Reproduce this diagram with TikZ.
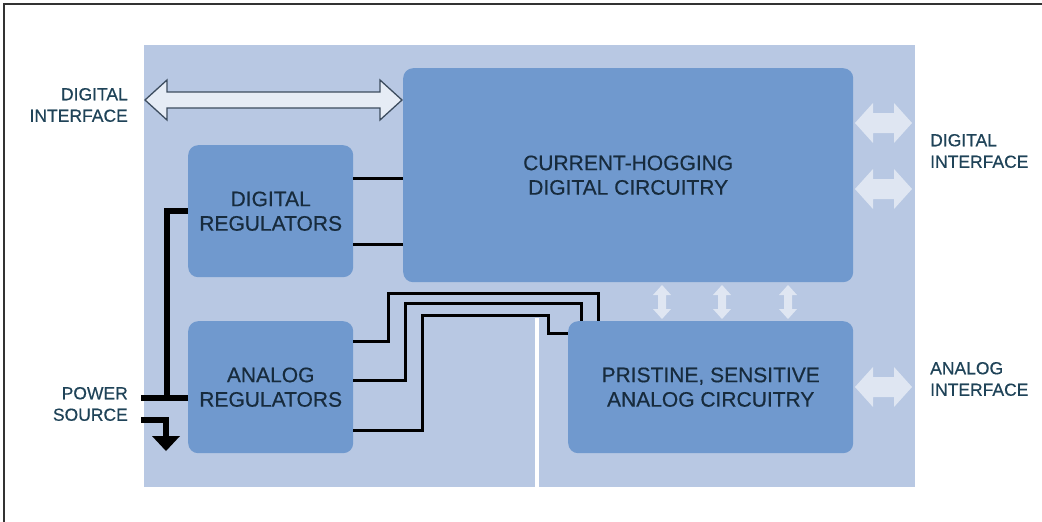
\documentclass[tikz,border=0pt]{standalone}
\usepackage{fontspec}
\setmainfont{Liberation Sans}[FakeBold=0.45]
\usetikzlibrary{calc}
\definecolor{bgblue}{HTML}{B8C8E3}
\definecolor{boxblue}{HTML}{7099CE}
\definecolor{txtc}{HTML}{172B3D}
\definecolor{lblc}{HTML}{1F4358}
\definecolor{arrfill}{HTML}{E6ECF5}
\definecolor{arrline}{HTML}{3C4C5E}
% style, x1, x2, y, shaft half, head half, head length
\newcommand{\hdblarrow}[7]{%
 \path[#1] (#2,#4) -- ({#2+#7},{#4-#6}) -- ({#2+#7},{#4-#5}) -- ({#3-#7},{#4-#5}) -- ({#3-#7},{#4-#6}) -- (#3,#4) -- ({#3-#7},{#4+#6}) -- ({#3-#7},{#4+#5}) -- ({#2+#7},{#4+#5}) -- ({#2+#7},{#4+#6}) -- cycle;}
% style, x, y1, y2, shaft half, head half, head length
\newcommand{\vdblarrow}[7]{%
 \path[#1] (#2,#3) -- ({#2+#6},{#3+#7}) -- ({#2+#5},{#3+#7}) -- ({#2+#5},{#4-#7}) -- ({#2+#6},{#4-#7}) -- (#2,#4) -- ({#2-#6},{#4-#7}) -- ({#2-#5},{#4-#7}) -- ({#2-#5},{#3+#7}) -- ({#2-#6},{#3+#7}) -- cycle;}
\begin{document}
\begin{tikzpicture}[x=1pt,y=-1pt,
  blk/.style={fill=boxblue, rounded corners=10pt, inner sep=0pt, anchor=north west, text=txtc, align=center, font=\fontsize{21}{24.5}\selectfont},
  lbl/.style={text=lblc, font=\fontsize{17.5}{21.5}\selectfont, inner sep=0pt},
  wire/.style={line width=3pt, black},
  power/.style={line width=6pt, black},
  lightarrow/.style={fill=arrfill, opacity=0.85},
  mainarrow/.style={fill=arrfill, draw=arrline, line width=1.3pt}]
\useasboundingbox (0,0) rectangle (1042,522);
\fill[white] (0,0) rectangle (1042,522);
% frame (top and left edges)
\draw[line width=1.5pt, black!80] (4,522) -- (4,4) -- (1042,4);
% background
\node[fill=bgblue, inner sep=0pt, anchor=north west, minimum width=771pt, minimum height=442pt] (bg) at (144,45) {};
% white separator
\coordinate (sep) at (537,318);
\draw[white, line width=4pt] (sep) -- (sep |- bg.south);
% blocks
\node[blk, minimum width=165pt, minimum height=132pt] (DR) at (188,145) {DIGITAL\\REGULATORS};
\node[blk, minimum width=165pt, minimum height=132pt] (AR) at (188,321) {ANALOG\\REGULATORS};
\node[blk, minimum width=450pt, minimum height=214pt] (CH) at (403,68) {CURRENT-HOGGING\\DIGITAL CIRCUITRY};
\node[blk, minimum width=285pt, minimum height=132pt] (AC) at (568,321) {PRISTINE, SENSITIVE\\ANALOG CIRCUITRY};
% digital regulator wires
\coordinate (d1) at ([yshift=-33pt]DR.north east);
\coordinate (d2) at ([yshift=-99pt]DR.north east);
\draw[wire] (d1) -- (d1 -| CH.west);
\draw[wire] (d2) -- (d2 -| CH.west);
% analog wires
\coordinate (w1s) at ([yshift=-20pt]AR.north east);
\coordinate (w2s) at ([yshift=-59pt]AR.north east);
\coordinate (w3s) at ([yshift=-109pt]AR.north east);
\coordinate (w1e) at ([xshift=30pt]AC.north west);
\coordinate (w2e) at ([xshift=13pt]AC.north west);
\coordinate (w3e) at ([yshift=-12pt]AC.north west);
\draw[wire] (w1s) -| (388,293) -| (w1e);
\draw[wire] (w2s) -| (405,303) -| (w2e);
\draw[wire] (w3s) -| (422,315) -| ($(w3e)+(-20,0)$) -- (w3e);
% power
\coordinate (pin) at (141,398);
\coordinate (gin) at (141,420);
\draw[power] (DR.west) -| (167,398);
\draw[power] (pin) -- (pin -| AR.west);
\draw[power] (gin) -| (166,437);
\fill[black] (152,436) -- (180,436) -- (166,451) -- cycle;
% interface arrows
\hdblarrow{mainarrow}{145}{402}{100}{8}{20}{22}
\hdblarrow{lightarrow}{855}{912}{123}{10}{20}{18}
\hdblarrow{lightarrow}{855}{912}{189}{10}{20}{18}
\hdblarrow{lightarrow}{855}{912}{387}{10}{20}{18}
\vdblarrow{lightarrow}{662}{285}{319}{4}{9}{10}
\vdblarrow{lightarrow}{722}{285}{319}{4}{9}{10}
\vdblarrow{lightarrow}{788}{285}{319}{4}{9}{10}
% labels
\node[lbl, align=right, anchor=east] (ldi) at (128,105) {DIGITAL\\INTERFACE};
\node[lbl, align=right, anchor=east] (lps) at (128,404) {POWER\\SOURCE};
\node[lbl, align=left, anchor=west] (rdi) at (930,151) {DIGITAL\\INTERFACE};
\node[lbl, align=left, anchor=west] (rai) at (930,379) {ANALOG\\INTERFACE};
\end{tikzpicture}
\end{document}
